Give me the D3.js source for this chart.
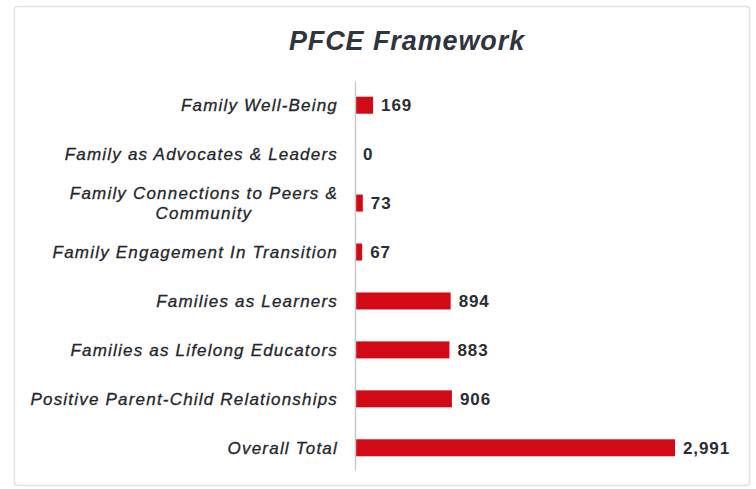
<!DOCTYPE html>
<html><head><meta charset="utf-8">
<script src="https://cdn.jsdelivr.net/npm/d3@7"></script>
<style>
html,body{margin:0;padding:0;background:#fff;}
svg{display:block;}
</style></head>
<body><svg id="chart" width="756" height="489"></svg>
<script>
const title = "PFCE Framework";
const categories = [
  ["Family Well-Being"],
  ["Family as Advocates & Leaders"],
  ["Family Connections to Peers &", "Community"],
  ["Family Engagement In Transition"],
  ["Families as Learners"],
  ["Families as Lifelong Educators"],
  ["Positive Parent-Child Relationships"],
  ["Overall Total"]
];
const values = [169, 0, 73, 67, 894, 883, 906, 2991];
const valueLabels = ["169", "0", "73", "67", "894", "883", "906", "2,991"];

const FONT = "Liberation Sans, Arial, sans-serif";
const svg = d3.select("#chart");
svg.append("rect").attr("x", 14.5).attr("y", 6.5).attr("width", 735).attr("height", 479)
  .attr("fill", "#fff").attr("stroke", "#e2e2e2").attr("stroke-width", 1.5).attr("rx", 3);

svg.append("text").attr("x", 407).attr("y", 50).attr("text-anchor", "middle")
  .attr("font-family", FONT).attr("font-size", 27)
  .attr("font-weight", "bold").attr("font-style", "italic").attr("fill", "#2f3440")
  .attr("letter-spacing", 0.9)
  .text(title);

const idx = d3.range(categories.length);
const y = d3.scaleBand().domain(idx).range([80.5, 472.5]).paddingInner(0.65).paddingOuter(0.33);
const x = d3.scaleLinear().domain([0, 2991]).range([355, 675]);

const g = svg.append("g");
g.selectAll("rect.bar").data(values).join("rect").attr("class", "bar")
  .attr("x", x(0)).attr("y", (d, i) => y(i) + y.bandwidth()/2 - 8.5)
  .attr("width", d => x(d) - x(0)).attr("height", 17).attr("fill", "#d20a16");

svg.append("line").attr("x1", 355.5).attr("x2", 355.5).attr("y1", 82).attr("y2", 470)
  .attr("stroke", "#c8c8c8").attr("stroke-width", 1.5);

g.selectAll("text.val").data(values).join("text").attr("class", "val")
  .attr("x", d => x(d) + 8).attr("y", (d, i) => y(i) + y.bandwidth()/2 + 6)
  .attr("font-family", FONT).attr("font-size", 17)
  .attr("font-weight", "bold").attr("fill", "#2a2d33").attr("letter-spacing", 0.9)
  .text((d, i) => valueLabels[i]);

const labelX = 338;
const LS = 1.2;
function styleLabel(sel) {
  return sel.attr("font-family", FONT).attr("font-size", 17).attr("font-style", "italic")
    .attr("fill", "#23262c").attr("stroke", "#23262c").attr("stroke-width", 0.3)
    .attr("letter-spacing", LS);
}
categories.forEach((lines, i) => {
  const cy = y(i) + y.bandwidth()/2;
  const n = lines.length;
  const lh = 20;
  const t = styleLabel(svg.append("text"));
  const first = t.append("tspan").attr("x", labelX).attr("text-anchor", "end")
    .attr("y", cy + 6 - (n - 1) * lh / 2).text(lines[0]);
  if (n > 1) {
    const w = first.node().getComputedTextLength();
    lines.slice(1).forEach((ln, k) => {
      styleLabel(svg.append("text")).attr("text-anchor", "middle")
        .attr("x", labelX - w / 2).attr("y", cy + 6 - (n - 1) * lh / 2 + (k + 1) * lh).text(ln);
    });
  }
});
</script></body></html>
